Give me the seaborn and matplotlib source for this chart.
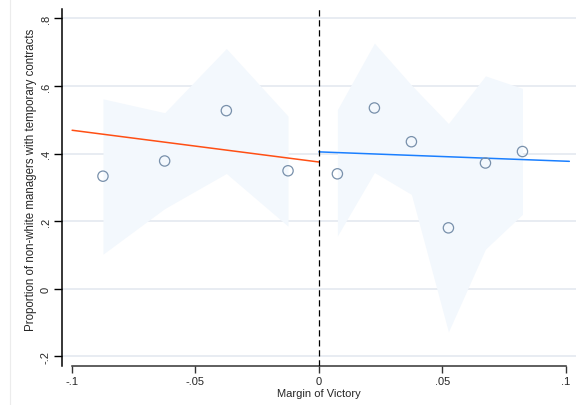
import numpy as np
import pandas as pd
import matplotlib
matplotlib.use("Agg")
import matplotlib.pyplot as plt
from matplotlib.lines import Line2D
import seaborn as sns

# Binned means below the threshold (losing side)
left_bins = [-0.0875, -0.0625, -0.0375, -0.0125]
left_means = [0.333, 0.378, 0.527, 0.349]
left_ci_low = [0.102, 0.237, 0.341, 0.185]
left_ci_high = [0.562, 0.521, 0.711, 0.511]

# Binned means above the threshold (winning side)
right_bins = [0.0075, 0.0225, 0.0375, 0.0525, 0.0675, 0.0825]
right_means = [0.340, 0.535, 0.435, 0.180, 0.372, 0.406]
right_ci_low = [0.156, 0.344, 0.279, -0.128, 0.117, 0.220]
right_ci_high = [0.530, 0.727, 0.603, 0.489, 0.630, 0.593]

# Linear fits on each side: intercept at the cutoff and slope
left_fit = {"intercept": 0.375, "slope": -0.94}
right_fit = {"intercept": 0.405, "slope": -0.276}

x_ticks = [-0.1, -0.05, 0, 0.05, 0.1]
x_tick_labels = ["-.1", "-.05", "0", ".05", ".1"]
y_ticks = [-0.2, 0, 0.2, 0.4, 0.6, 0.8]
y_tick_labels = ["-.2", "0", ".2", ".4", ".6", ".8"]

sns.set_theme(style="white")
plt.rcParams["font.family"] = ["Liberation Sans", "DejaVu Sans"]

W, H = 576, 406
fig = plt.figure(figsize=(W / 100, H / 100), dpi=100)
ax = fig.add_axes([62 / W, 1 - 367 / H, (W - 62) / W, (367 - 10) / H])

band_color = "#f3f8fd"
left_df = pd.DataFrame({"x": left_bins, "y": left_means,
                        "lo": left_ci_low, "hi": left_ci_high})
right_df = pd.DataFrame({"x": right_bins, "y": right_means,
                         "lo": right_ci_low, "hi": right_ci_high})

for df in (left_df, right_df):
    ax.fill_between(df["x"], df["lo"], df["hi"], color=band_color,
                    linewidth=0, zorder=1)

# horizontal gridlines
for yv in y_ticks:
    ax.axhline(yv, color="#e4e9f0", linewidth=1.2, zorder=0.5)

# fitted lines
xl = np.linspace(-0.1, 0, 50)
xr = np.linspace(0, 0.1015, 50)
fit_df_l = pd.DataFrame({"x": xl, "y": left_fit["intercept"] + left_fit["slope"] * xl})
fit_df_r = pd.DataFrame({"x": xr, "y": right_fit["intercept"] + right_fit["slope"] * xr})
sns.lineplot(data=fit_df_l, x="x", y="y", ax=ax, color="#ff4f14",
             linewidth=1.1, zorder=3)
sns.lineplot(data=fit_df_r, x="x", y="y", ax=ax, color="#1a7fff",
             linewidth=1.1, zorder=3)

# binned means
pts = pd.concat([left_df, right_df], ignore_index=True)
sns.scatterplot(data=pts, x="x", y="y", ax=ax, marker="o", s=55,
                facecolor="none", edgecolor="#7890ab", linewidth=0.9,
                zorder=4)

# threshold
ax.axvline(0, color="black", linewidth=0.9, linestyle=(0, (5, 3)), zorder=5)

ax.set_xlim(-0.1041, 0.1042)
ax.set_ylim(-0.229, 0.828)
ax.set_xticks(x_ticks)
ax.set_xticklabels(x_tick_labels)
ax.set_yticks(y_ticks)
ax.set_yticklabels(y_tick_labels, rotation=90, va="center")

for side in ("top", "right"):
    ax.spines[side].set_visible(False)
ax.spines["left"].set_color("black")
ax.spines["left"].set_linewidth(1.1)
ax.spines["bottom"].set_color("#333333")
ax.spines["bottom"].set_linewidth(1.1)
ax.spines["bottom"].set_bounds(-0.1, 0.1)

ax.tick_params(axis="x", direction="out", length=5, width=1, color="#333333",
               labelsize=8, pad=2, bottom=True)
ax.tick_params(axis="y", direction="out", length=6, width=1, color="black",
               labelsize=8, pad=2, left=True)

ax.set_xlabel("Margin of Victory", fontsize=8, labelpad=2)
ax.set_ylabel("Proportion of non-white managers with temporary contracts",
              fontsize=8.3)
ax.yaxis.set_label_coords(-0.049, 0.524)

fig.add_artist(Line2D([9.5 / W, 9.5 / W], [0, 1], color="#ececec",
                      linewidth=0.8))

fig.savefig("out.png", dpi=100)
